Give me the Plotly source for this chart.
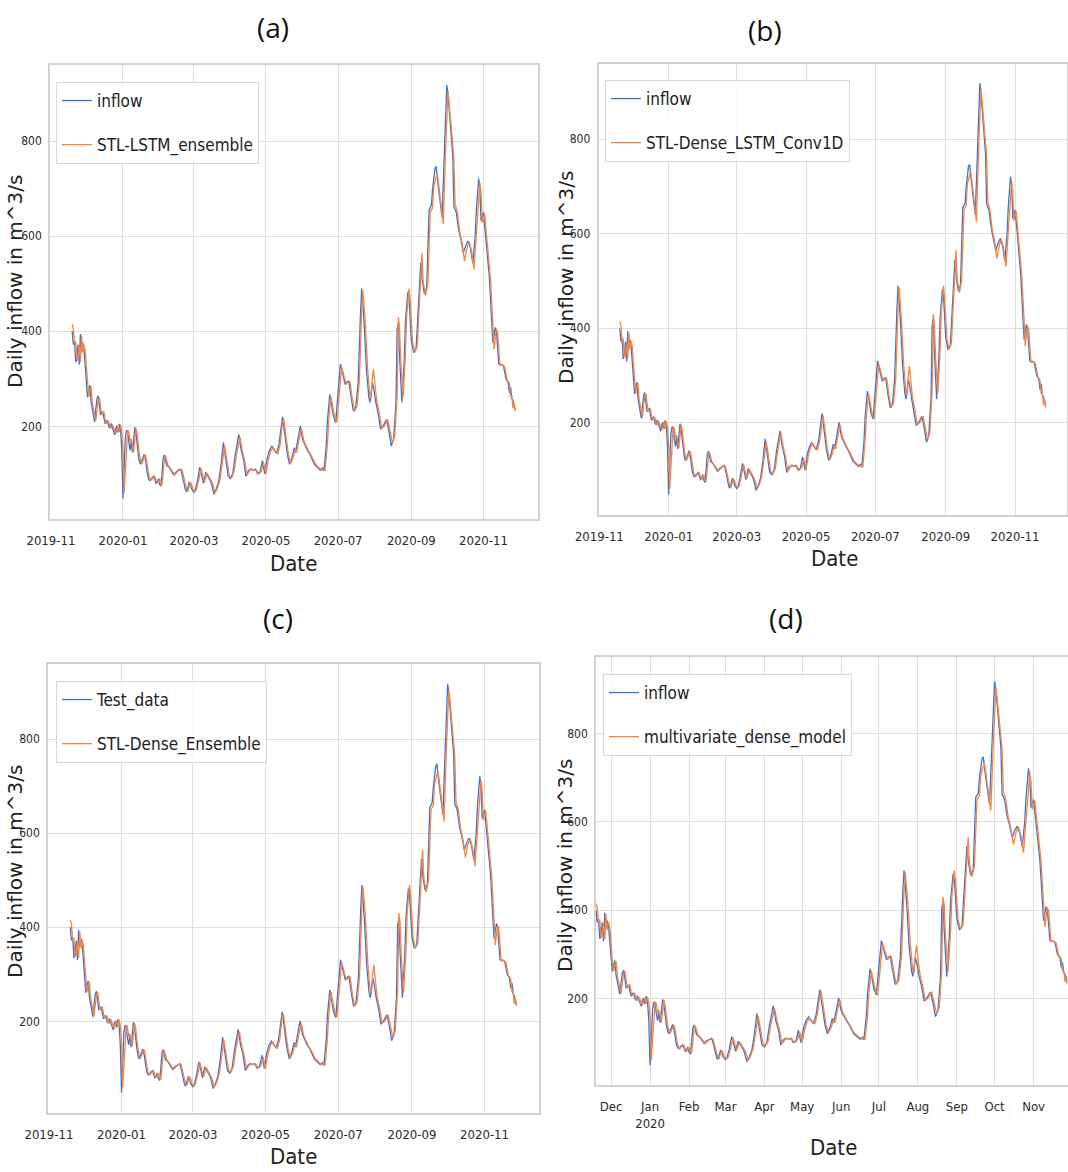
import pandas as pd
import plotly.graph_objects as go

BASE = "2019-11-01"  # day 0 of the day-offset arrays below

# observed daily inflow (day offset from 2019-11-01, value in m^3/s)
inflow_day = [18, 19, 20, 21, 22, 23, 24, 25, 26, 27, 28, 29, 30, 31, 32, 33, 34, 35, 36, 37, 38, 39, 40,
              41, 42, 43, 44, 45, 46, 47, 48, 49, 50, 51, 52, 53, 54, 55, 56, 57, 58, 59, 60, 61, 62, 63,
              64, 65, 66, 67, 68, 69, 70, 71, 72, 73, 74, 75, 76, 77, 78, 79, 80, 81, 82, 83, 84, 85, 86,
              87, 88, 89, 90, 91, 92, 93, 94, 95, 96, 97, 98, 100, 102, 104, 106, 108, 110, 112, 114, 115,
              117, 118, 119, 121, 122, 124, 126, 128, 129, 131, 133, 135, 136, 138, 140, 142, 144, 146, 148,
              150, 152, 154, 156, 159, 161, 163, 165, 167, 169, 171, 173, 175, 177, 179, 181, 183, 185, 187,
              189, 191, 193, 195, 196, 198, 200, 202, 204, 206, 207, 209, 211, 213, 215, 217, 219, 221, 223,
              225, 227, 228, 230, 231, 233, 234, 236, 237, 239, 241, 243, 245, 247, 249, 250, 252, 254, 256,
              258, 260, 262, 263, 265, 267, 269, 270, 272, 273, 275, 277, 279, 281, 283, 284, 286, 288, 290,
              292, 293, 294, 295, 297, 299, 300, 302, 303, 305, 307, 309, 311, 313, 314, 316, 318, 320, 322,
              323, 325, 326, 328, 330, 331, 333, 335, 336, 338, 340, 341, 343, 345, 347, 349, 351, 353, 355,
              357, 359, 360, 362, 363, 364, 366, 368, 371, 373, 374, 376, 377, 379, 381, 383, 385, 387, 388,
              389, 390, 391, 392, 393]
inflow_val = [400, 372, 380, 335, 342, 372, 330, 394, 358, 376, 362, 330, 282, 261, 276, 286, 252, 238, 228,
              209, 236, 258, 264, 242, 224, 226, 231, 216, 205, 211, 212, 199, 196, 206, 199, 189, 182, 196,
              201, 187, 205, 192, 150, 48, 110, 176, 192, 188, 165, 150, 168, 145, 170, 198, 186, 160, 140,
              125, 120, 128, 135, 141, 130, 110, 95, 88, 86, 90, 92, 95, 88, 80, 82, 90, 78, 74, 100, 132, 140,
              128, 118, 114, 105, 98, 104, 108, 110, 90, 65, 62, 82, 80, 68, 61, 64, 85, 114, 92, 80, 103, 95,
              85, 78, 57, 68, 84, 120, 166, 130, 95, 90, 102, 140, 183, 150, 130, 95, 106, 110, 108, 110, 100,
              104, 128, 100, 132, 150, 158, 150, 143, 162, 210, 220, 182, 142, 120, 134, 155, 145, 172, 201,
              172, 159, 150, 142, 130, 120, 115, 110, 108, 112, 106, 160, 212, 267, 255, 222, 208, 272, 331,
              310, 288, 292, 296, 262, 232, 240, 292, 440, 490, 420, 320, 262, 250, 292, 282, 250, 226, 194,
              200, 210, 214, 190, 159, 172, 250, 405, 418, 350, 250, 340, 420, 482, 470, 380, 355, 362, 450,
              545, 512, 479, 492, 655, 665, 700, 742, 747, 700, 660, 640, 780, 918, 900, 840, 770, 662, 650,
              613, 592, 564, 580, 590, 575, 543, 600, 655, 721, 700, 632, 650, 600, 514, 420, 376, 408, 400,
              331, 330, 327, 300, 292, 270, 282, 258, 255, 240, 235]

# model prediction (day offset from 2019-11-01, value in m^3/s)
pred_day = [18, 19, 20, 21, 22, 23, 24, 25, 26, 27, 28, 29, 30, 31, 32, 33, 34, 35, 36, 37, 38, 39, 40, 41,
            42, 43, 44, 45, 46, 47, 48, 49, 50, 51, 52, 53, 54, 55, 56, 57, 58, 59, 60, 61, 62, 63, 64, 65,
            66, 67, 68, 69, 70, 71, 72, 73, 74, 75, 76, 77, 78, 79, 80, 81, 82, 83, 84, 85, 86, 87, 88, 89,
            90, 91, 92, 93, 94, 95, 96, 97, 98, 99, 101, 103, 105, 107, 109, 111, 113, 115, 116, 118, 119,
            120, 122, 123, 125, 127, 129, 130, 132, 134, 136, 137, 139, 141, 143, 145, 147, 149, 151, 153,
            155, 157, 160, 162, 164, 166, 168, 170, 172, 174, 176, 178, 180, 182, 184, 186, 188, 190, 192,
            194, 196, 197, 199, 201, 203, 205, 207, 208, 210, 212, 214, 216, 218, 220, 222, 224, 226, 228,
            229, 231, 232, 234, 235, 237, 238, 240, 242, 244, 246, 248, 250, 251, 253, 255, 257, 259, 261,
            263, 264, 266, 268, 270, 271, 272, 273, 275, 276, 278, 280, 282, 284, 285, 287, 289, 291, 293,
            294, 295, 296, 298, 300, 301, 303, 304, 306, 308, 310, 312, 314, 315, 317, 319, 321, 323, 324,
            326, 327, 329, 331, 332, 334, 336, 337, 339, 341, 342, 344, 346, 348, 350, 352, 354, 356, 358,
            360, 361, 363, 364, 365, 367, 369, 372, 374, 375, 377, 378, 380, 382, 384, 386, 388, 389, 390,
            391, 392, 393]
pred_val = [415, 405, 372, 378, 338, 345, 370, 335, 390, 355, 372, 360, 328, 280, 262, 276, 284, 250, 238,
            226, 212, 236, 256, 262, 240, 224, 228, 230, 214, 206, 210, 210, 198, 196, 204, 198, 188, 184,
            196, 200, 188, 203, 190, 158, 60, 105, 174, 192, 188, 166, 174, 158, 146, 170, 196, 184, 158,
            140, 126, 122, 128, 135, 140, 128, 110, 95, 88, 87, 90, 92, 94, 86, 80, 84, 90, 78, 76, 100, 132,
            138, 126, 118, 112, 104, 98, 104, 108, 108, 88, 66, 64, 82, 78, 68, 63, 66, 86, 112, 90, 82, 102,
            94, 84, 78, 60, 70, 86, 122, 160, 128, 95, 92, 104, 140, 178, 148, 128, 97, 106, 110, 108, 108,
            100, 105, 124, 100, 130, 148, 155, 148, 142, 162, 208, 216, 180, 140, 122, 134, 152, 145, 172,
            196, 170, 157, 148, 140, 128, 120, 115, 110, 108, 110, 106, 162, 210, 262, 250, 222, 208, 268,
            325, 306, 288, 292, 294, 258, 232, 242, 295, 445, 485, 418, 322, 262, 258, 300, 320, 270, 250,
            226, 196, 200, 212, 214, 190, 165, 180, 265, 430, 410, 340, 262, 350, 430, 490, 465, 378, 356,
            368, 460, 565, 505, 475, 500, 650, 660, 705, 725, 730, 690, 640, 625, 780, 905, 880, 830, 765,
            668, 650, 608, 585, 548, 575, 588, 568, 530, 600, 650, 712, 690, 628, 648, 598, 510, 415, 362,
            405, 398, 328, 330, 325, 298, 290, 262, 265, 238, 250, 232]

panel_labels = ["(a)", "(b)", "(c)", "(d)"]
obs_names = ["inflow", "inflow", "Test_data", "inflow"]
pred_names = ["STL-LSTM_ensemble", "STL-Dense_LSTM_Conv1D", "STL-Dense_Ensemble", "multivariate_dense_model"]
y_label = "Daily inflow in m^3/s"
x_label = "Date"
y_ticks = [200, 400, 600, 800]
bimonth_ticks = ["2019-11-01", "2020-01-01", "2020-03-01", "2020-05-01", "2020-07-01", "2020-09-01", "2020-11-01"]
bimonth_text = ["2019-11", "2020-01", "2020-03", "2020-05", "2020-07", "2020-09", "2020-11"]
month_ticks = ["2019-12-01", "2020-01-01", "2020-02-01", "2020-03-01", "2020-04-01", "2020-05-01",
               "2020-06-01", "2020-07-01", "2020-08-01", "2020-09-01", "2020-10-01", "2020-11-01"]
month_text = ["Dec", "Jan<br>2020", "Feb", "Mar", "Apr", "May", "Jun", "Jul", "Aug", "Sep", "Oct", "Nov"]

W, H = 1068, 1172
BLUE = "#3a74d6"
ORANGE = "#f8853f"
GRID = "#dedede"
FRAME = "#d2d2d2"
COND = "DejaVu Sans Condensed, Liberation Sans, sans-serif"

base = pd.Timestamp(BASE)
x_obs = base + pd.to_timedelta(inflow_day, unit="D")
x_pred = base + pd.to_timedelta(pred_day, unit="D")

# panel boxes in pixels: (left, right, top, bottom)
boxes = [(50, 537.5, 65, 519), (598.5, 1067, 63.5, 515), (48, 539, 664, 1113), (596, 1067.5, 657, 1085)]
legend_pos = [(56, 82), (605, 80), (56, 681), (603, 674)]
title_pos = [(273, 27), (765, 30), (278, 618), (786, 618)]
ylab_pos = [(15, 282), (566, 278), (15, 872), (565, 866)]
xlab_pos = [(293, 563), (834, 559), (293, 1156), (833, 1147)]

fig = go.Figure()
layout = dict(template="none", width=W, height=H, margin=dict(l=0, r=0, t=0, b=0, pad=0), autosize=False,
              paper_bgcolor="white", plot_bgcolor="white", showlegend=True)
annotations = []

for i in range(4):
    n = "" if i == 0 else str(i + 1)
    xa, ya = "x" + n, "y" + n
    lg = "legend" + n
    fig.add_trace(go.Scatter(x=x_obs, y=inflow_val, mode="lines", name=obs_names[i],
                             line=dict(color=BLUE, width=1.3), xaxis=xa, yaxis=ya,
                             legend=lg, legendgroup="obs%d" % i))
    fig.add_trace(go.Scatter(x=x_pred, y=pred_val, mode="lines", name=pred_names[i],
                             line=dict(color=ORANGE, width=1.3), xaxis=xa, yaxis=ya,
                             legend=lg, legendgroup="pred%d" % i))
    l, r, t, b = boxes[i]
    if i < 3:
        xr = [base + pd.Timedelta(days=-0.75), base + pd.Timedelta(days=411.75)]
        xticks, xtext = bimonth_ticks, bimonth_text
        yr = [5, 960]
    else:
        xr = [base + pd.Timedelta(days=18), base + pd.Timedelta(days=393)]
        xticks, xtext = month_ticks, month_text
        yr = [4, 973]
    layout["xaxis" + n] = dict(domain=[l / W, r / W], anchor=ya, type="date", range=xr, automargin=False,
                               tickmode="array", tickvals=xticks, ticktext=xtext,
                               showgrid=True, gridcolor=GRID, gridwidth=1.3,
                               showline=True, linecolor=FRAME, linewidth=1.6, mirror=True,
                               zeroline=False, ticks="", ticklabelstandoff=9,
                               tickfont=dict(family=COND, size=13, color="#2a2a2a"))
    layout["yaxis" + n] = dict(domain=[1 - b / H, 1 - t / H], anchor=xa, range=yr, automargin=False,
                               tickmode="array", tickvals=y_ticks,
                               showgrid=True, gridcolor=GRID, gridwidth=1.3,
                               showline=True, linecolor=FRAME, linewidth=1.6, mirror=True,
                               zeroline=False, ticks="", ticklabelstandoff=4,
                               tickfont=dict(family=COND, size=12, color="#2a2a2a"))
    lx, ly = legend_pos[i]
    layout[lg] = dict(x=lx / W, y=1 - ly / H, xanchor="left", yanchor="top",
                      bgcolor="rgba(255,255,255,0.85)", bordercolor="#d8d8d8", borderwidth=1,
                      font=dict(family=COND, size=17, color="#222222"),
                      tracegroupgap=19, itemwidth=30)
    tx, ty = title_pos[i]
    annotations.append(dict(text=panel_labels[i], x=tx / W, y=1 - ty / H, xref="paper", yref="paper",
                            xanchor="center", yanchor="middle", showarrow=False,
                            font=dict(family="Open Sans, Liberation Sans, sans-serif", size=28, color="#111111")))
    yx, yy = ylab_pos[i]
    annotations.append(dict(text=y_label, x=yx / W, y=1 - yy / H, xref="paper", yref="paper",
                            xanchor="center", yanchor="middle", showarrow=False, textangle=-90,
                            font=dict(family="DejaVu Sans, sans-serif", size=20, color="#222222")))
    dx, dy = xlab_pos[i]
    annotations.append(dict(text=x_label, x=dx / W, y=1 - dy / H, xref="paper", yref="paper",
                            xanchor="center", yanchor="middle", showarrow=False,
                            font=dict(family=COND, size=22, color="#222222")))

layout["annotations"] = annotations
fig.update_layout(**layout)
fig.write_html("out.html")
